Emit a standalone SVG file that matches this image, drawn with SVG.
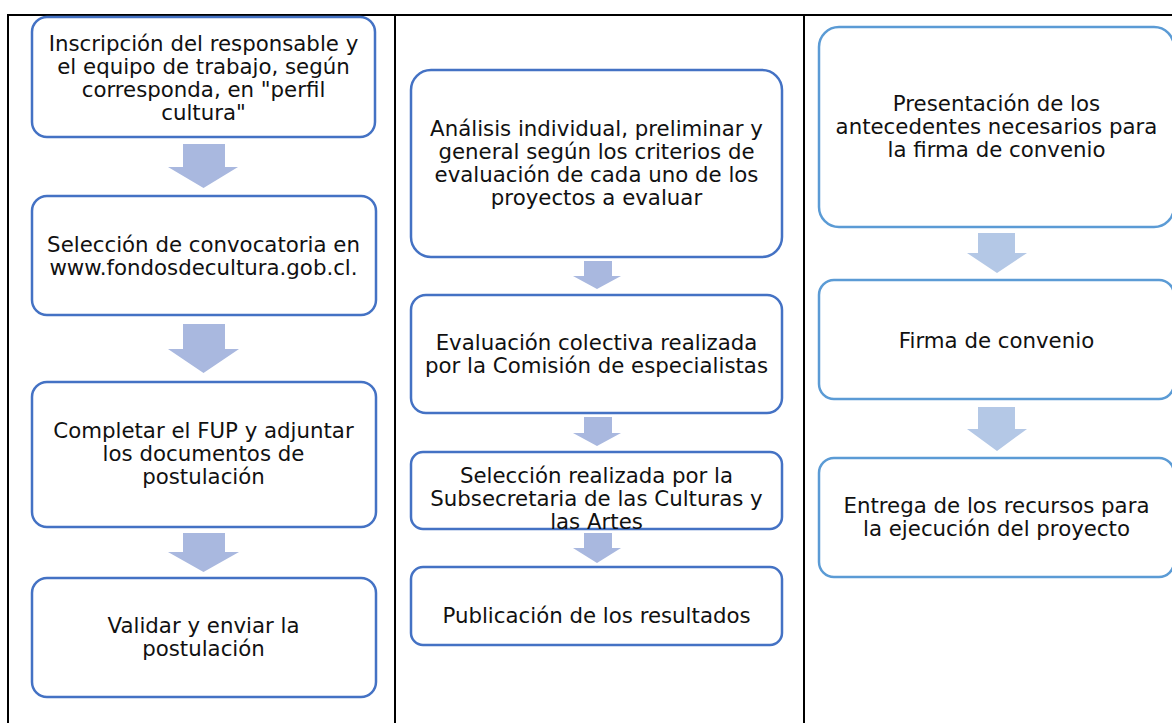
<svg xmlns="http://www.w3.org/2000/svg" width="1172" height="723" viewBox="0 0 1172 723">
<style>
.t{font-family:"DejaVu Sans",Verdana,sans-serif;font-size:21.3px;fill:#111;text-anchor:middle}
.b1{fill:#fff;stroke:#4472C4;stroke-width:2.5}
.b3{fill:#fff;stroke:#5B9BD5;stroke-width:2.5}
.a1{fill:#A9B8DF}
.a3{fill:#B4C8E6}
.grid{stroke:#000;stroke-width:2;fill:none}
</style>
<rect width="1172" height="723" fill="#fff"/>
<g id="table" class="grid">
<line x1="7" y1="15" x2="1172" y2="15"/>
<line x1="8" y1="14" x2="8" y2="723"/>
<line x1="395" y1="14" x2="395" y2="723"/>
<line x1="804" y1="14" x2="804" y2="723"/>
</g>
<g id="connectors">
<polygon class="a1" points="183,144 225,144 225,167 238,167 203.5,188 168,167 183,167"/>
<polygon class="a1" points="183,324 225,324 225,349 239,349 203.5,373 168,349 183,349"/>
<polygon class="a1" points="183,533 225,533 225,552 239,552 203.5,572 168,552 183,552"/>
<polygon class="a1" points="584,261 612,261 612,276 621,276 597,289 573,276 584,276"/>
<polygon class="a1" points="584,417 612,417 612,433 621,433 597,446 573,433 584,433"/>
<polygon class="a1" points="584,533 612,533 612,548 621,548 597,563 573,548 584,548"/>
<polygon class="a3" points="978,233 1015,233 1015,253 1027,253 997,273 967,253 978,253"/>
<polygon class="a3" points="978,407 1015,407 1015,429 1027,429 997,451 967,429 978,429"/>
</g>
<g id="n1">
<rect class="b1" x="32" y="17" width="343" height="120" rx="15"/>
<text class="t"><tspan x="203.5" y="50.5">Inscripción del responsable y</tspan><tspan x="203.5" y="73.5">el equipo de trabajo, según</tspan><tspan x="203.5" y="96.5">corresponda, en "perfil</tspan><tspan x="203.5" y="119.5">cultura"</tspan></text>
</g>
<g id="n2">
<rect class="b1" x="32" y="196" width="344" height="119" rx="15"/>
<text class="t"><tspan x="203.5" y="251.5">Selección de convocatoria en</tspan><tspan x="203.5" y="274.5">www.fondosdecultura.gob.cl.</tspan></text>
</g>
<g id="n3">
<rect class="b1" x="32" y="382" width="344" height="145" rx="15"/>
<text class="t"><tspan x="203.5" y="438">Completar el FUP y adjuntar</tspan><tspan x="203.5" y="461">los documentos de</tspan><tspan x="203.5" y="484">postulación</tspan></text>
</g>
<g id="n4">
<rect class="b1" x="32" y="578" width="344" height="119" rx="15"/>
<text class="t"><tspan x="203.5" y="633">Validar y enviar la</tspan><tspan x="203.5" y="656">postulación</tspan></text>
</g>
<g id="n5">
<rect class="b1" x="411" y="70" width="371" height="187" rx="20"/>
<text class="t"><tspan x="596.5" y="136">Análisis individual, preliminar y</tspan><tspan x="596.5" y="159">general según los criterios de</tspan><tspan x="596.5" y="182">evaluación de cada uno de los</tspan><tspan x="596.5" y="205">proyectos a evaluar</tspan></text>
</g>
<g id="n6">
<rect class="b1" x="411" y="295" width="371" height="118" rx="15"/>
<text class="t"><tspan x="596.5" y="350">Evaluación colectiva realizada</tspan><tspan x="596.5" y="373">por la Comisión de especialistas</tspan></text>
</g>
<g id="n7">
<rect class="b1" x="411" y="452" width="371" height="77" rx="12"/>
<text class="t"><tspan x="596.5" y="482.5">Selección realizada por la</tspan><tspan x="596.5" y="505.5">Subsecretaria de las Culturas y</tspan><tspan x="596.5" y="528.5">las Artes</tspan></text>
</g>
<g id="n8">
<rect class="b1" x="411" y="567" width="371" height="78" rx="12"/>
<text class="t" x="596.5" y="623">Publicación de los resultados</text>
</g>
<g id="n9">
<rect class="b3" x="819" y="27" width="355" height="200" rx="20"/>
<text class="t"><tspan x="996.5" y="110.5">Presentación de los</tspan><tspan x="996.5" y="133.5">antecedentes necesarios para</tspan><tspan x="996.5" y="156.5">la firma de convenio</tspan></text>
</g>
<g id="n10">
<rect class="b3" x="819" y="280" width="355" height="119" rx="15"/>
<text class="t" x="996.5" y="348">Firma de convenio</text>
</g>
<g id="n11">
<rect class="b3" x="819" y="458" width="355" height="119" rx="15"/>
<text class="t"><tspan x="996.5" y="513">Entrega de los recursos para</tspan><tspan x="996.5" y="536">la ejecución del proyecto</tspan></text>
</g>
</svg>
